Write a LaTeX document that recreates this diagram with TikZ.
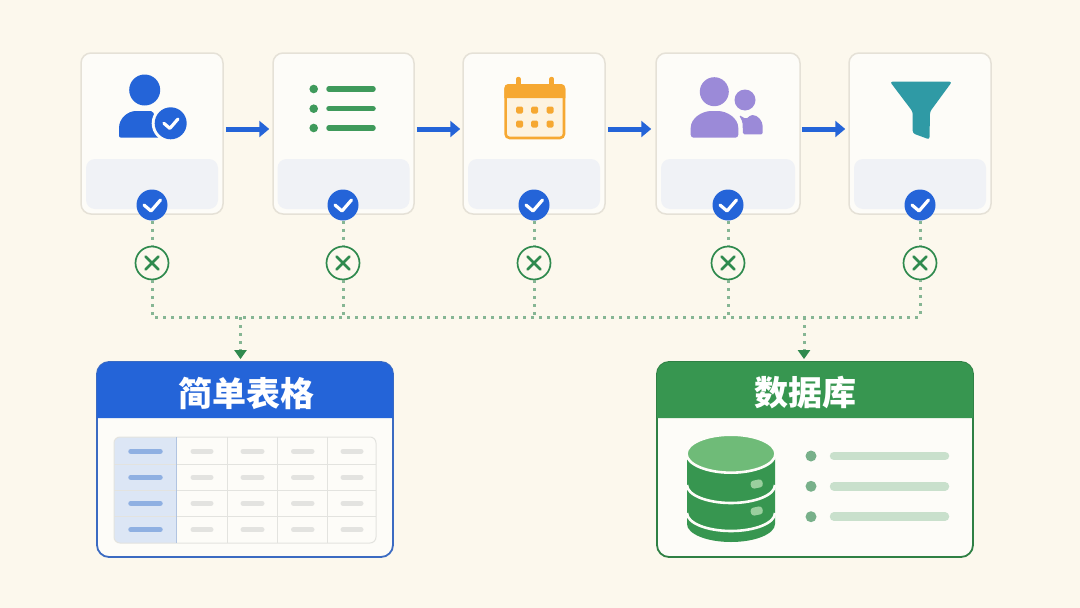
\documentclass[tikz,border=0pt]{standalone}
\usepackage{fontspec}
\newfontfamily\cjk{Noto Sans CJK SC}
\usepackage{tikz}
\usetikzlibrary{calc}
\usetikzlibrary{arrows.meta}

\definecolor{paper}{HTML}{FCF8ED}
\definecolor{cardfill}{HTML}{FDFCF8}
\definecolor{cardline}{HTML}{E5E1D7}
\definecolor{trayfill}{HTML}{F0F2F6}
\definecolor{flowblue}{HTML}{2464D8}
\definecolor{okgreen}{HTML}{2F8A4E}
\definecolor{dotgreen}{HTML}{86B694}
\definecolor{listgreen}{HTML}{3F9A5B}
\definecolor{dbgreen}{HTML}{379650}
\definecolor{dbtop}{HTML}{6FBB78}
\definecolor{calorange}{HTML}{F6A832}
\definecolor{calfill}{HTML}{FDF3E0}
\definecolor{teampurple}{HTML}{9B8AD8}
\definecolor{funnelteal}{HTML}{2F9AA5}
\definecolor{gridline}{HTML}{E3E3DF}
\definecolor{colfill}{HTML}{DCE6F5}
\definecolor{colbar}{HTML}{8FB0E2}
\definecolor{cellbar}{HTML}{E3E3E0}
\definecolor{rowdot}{HTML}{78B08A}
\definecolor{rowbar}{HTML}{C9E0CC}

\tikzset{
  card/.style={draw=cardline,fill=cardfill,line width=1.5,rounded corners=10,minimum height=161,inner sep=0},
  tray/.style={fill=trayfill,rounded corners=9,minimum height=50,inner sep=0},
  okdot/.style={circle,fill=flowblue,minimum size=31,inner sep=0},
  nodot/.style={circle,draw=okgreen,fill=paper,line width=1.7,minimum size=33,inner sep=0},
  flow/.style={-{Triangle[length=10pt,width=16pt]},draw=flowblue,fill=flowblue,line width=5},
  dotline/.style={draw=dotgreen,line width=3,dash pattern=on 2.8pt off 5.2pt},
  droparrow/.style={dotline,-{Triangle[length=9pt,width=12pt,color=okgreen]}},
  panel/.style={fill=cardfill,line width=1.8,rounded corners=12,minimum height=195,inner sep=0},
  title/.style={text=white,font=\cjk\bfseries\fontsize{34}{40}\selectfont,inner sep=0},
  cbar/.style={draw=colbar,line width=5.5,line cap=round},
  gbar/.style={draw=cellbar,line width=5,line cap=round},
  rbar/.style={draw=rowbar,line width=8.5,line cap=round},
  checkmark/.pic={\draw[white,line width=3.2,line cap=round,line join=round] (-8,0) -- (-1,6) -- (8.5,-5);},
  crossmark/.pic={\draw[okgreen,line width=2.6,line cap=round] (-6.5,-6.5) -- (6.5,6.5) (-6.5,6.5) -- (6.5,-6.5);}
}

\begin{document}
\begin{tikzpicture}[x=1pt,y=-1pt]

  \useasboundingbox (0,0) rectangle (1080,608);
  \fill[paper] (0,0) rectangle (1080,608);

  % top row
  \node[card,minimum width=142] (card1) at (152,133.5) {};
  \node[card,minimum width=141] (card2) at (343.5,133.5) {};
  \node[card,minimum width=142] (card3) at (534,133.5) {};
  \node[card,minimum width=144] (card4) at (728,133.5) {};
  \node[card,minimum width=142] (card5) at (920,133.5) {};

  \node[tray,minimum width=132] (tray1) at (152,184) {};
  \node[tray,minimum width=132] (tray2) at (343.5,184) {};
  \node[tray,minimum width=132] (tray3) at (534,184) {};
  \node[tray,minimum width=134] (tray4) at (728,184) {};
  \node[tray,minimum width=132] (tray5) at (920,184) {};

  \draw[flow] ([xshift=2pt,yshift=4.5pt]card1.east) -- ([xshift=-3pt,yshift=4.5pt]card2.west);
  \draw[flow] ([xshift=2pt,yshift=4.5pt]card2.east) -- ([xshift=-2pt,yshift=4.5pt]card3.west);
  \draw[flow] ([xshift=2pt,yshift=4.5pt]card3.east) -- ([xshift=-4pt,yshift=4.5pt]card4.west);
  \draw[flow] ([xshift=1pt,yshift=4.5pt]card4.east) -- ([xshift=-3pt,yshift=4.5pt]card5.west);

  % person with badge
  \fill[flowblue] (144.7,90) circle (15.5);
  \fill[flowblue,rounded corners=2] (119,137.7) -- (119,130) .. controls (119,118) and (128,111) .. (138,111) -- (153,111) -- (160,137.7) -- cycle;
  \fill[cardfill] (170.7,123.3) circle (19);
  \fill[flowblue] (170.7,123.3) circle (16);
  \pic[scale=0.85] at (170.7,123.3) {checkmark};

  % list
  \fill[listgreen] (313.7,89) circle (4.3);
  \fill[listgreen] (313.7,108.7) circle (4.3);
  \fill[listgreen] (313.7,128) circle (4.3);
  \draw[listgreen,line width=5.5,line cap=round] (329,89) -- (373,89);
  \draw[listgreen,line width=5.5,line cap=round] (329,108.7) -- (373,108.7);
  \draw[listgreen,line width=5.5,line cap=round] (329,128) -- (373,128);

  % calendar
  \draw[calorange,line width=4.5,line cap=round] (518.3,79) -- (518.3,85);
  \draw[calorange,line width=4.5,line cap=round] (551.7,79) -- (551.7,85);
  \draw[calorange,fill=calfill,line width=2.6,rounded corners=4] (505.6,85.3) rectangle (564,138);
  \fill[calorange] (504.3,98) [rounded corners=4] -- (504.3,84) -- (565.3,84) [sharp corners] -- (565.3,98) -- cycle;
  \fill[calorange,rounded corners=1.5] (516.2,106.5) rectangle +(7,7);
  \fill[calorange,rounded corners=1.5] (531.2,106.5) rectangle +(7,7);
  \fill[calorange,rounded corners=1.5] (546.5,106.5) rectangle +(7,7);
  \fill[calorange,rounded corners=1.5] (516.2,120.5) rectangle +(7,7);
  \fill[calorange,rounded corners=1.5] (531.2,120.5) rectangle +(7,7);
  \fill[calorange,rounded corners=1.5] (546.5,120.5) rectangle +(7,7);

  % two people
  \fill[teampurple] (714.3,91.7) circle (14.5);
  \fill[teampurple] (745,100) circle (10.5);
  \fill[teampurple,rounded corners=3] (690.7,137.7) -- (690.7,131) .. controls (690.7,118) and (702,111) .. (714.5,111) .. controls (727,111) and (738.3,118) .. (738.3,131) -- (738.3,137.7) -- cycle;
  \fill[teampurple,rounded corners=1.5] (743,134.3) -- (742.5,122) -- (739,115) -- (746,119) -- (751,115) .. controls (758,115) and (762.7,121) .. (762.7,128) -- (762.7,134.3) -- cycle;

  % funnel
  \fill[funnelteal,rounded corners=2.5] (890,81.7) -- (952,81.7) -- (930,111.7) -- (929.5,139.5) -- (912.7,133.3) -- (912.7,111.7) -- cycle;

  % checks and crosses
  \node[okdot] (ok1) at (152,205) {};
  \node[okdot] (ok2) at (343,205) {};
  \node[okdot] (ok3) at (534,205) {};
  \node[okdot] (ok4) at (728,205) {};
  \node[okdot] (ok5) at (920,205) {};
  \pic at (ok1) {checkmark};
  \pic at (ok2) {checkmark};
  \pic at (ok3) {checkmark};
  \pic at (ok4) {checkmark};
  \pic at (ok5) {checkmark};

  \node[nodot] (no1) at (152,263) {};
  \node[nodot] (no2) at (343,263) {};
  \node[nodot] (no3) at (534,263) {};
  \node[nodot] (no4) at (728,263) {};
  \node[nodot] (no5) at (920,263) {};
  \pic at (no1) {crossmark};
  \pic at (no2) {crossmark};
  \pic at (no3) {crossmark};
  \pic at (no4) {crossmark};
  \pic at (no5) {crossmark};

  % dotted bus
  \coordinate (bus1) at (152,317);
  \coordinate (bus2) at (343,317);
  \coordinate (bus3) at (534,317);
  \coordinate (bus4) at (728,317);
  \coordinate (bus5) at (920,317);
  \coordinate (taptable) at (240.5,317);
  \coordinate (tapbase) at (804,317);

  \draw[dotline] (ok1) -- (no1);
  \draw[dotline] (ok2) -- (no2);
  \draw[dotline] (ok3) -- (no3);
  \draw[dotline] (ok4) -- (no4);
  \draw[dotline] (ok5) -- (no5);
  \draw[dotline] (no1) -- (bus1) -- (bus5) -- (no5);
  \draw[dotline] (no2) -- (bus2);
  \draw[dotline] (no3) -- (bus3);
  \draw[dotline] (no4) -- (bus4);

  % table panel
  \node[panel,draw=flowblue!75!gray,minimum width=296] (tablepanel) at (245,459.5) {};
  \fill[flowblue] (97,418) [rounded corners=12] -- (97,362) -- (393,362) [sharp corners] -- (393,418) -- cycle;
  \node[title] (tabletitle) at (246.5,393) {简单表格};

  \fill[cardfill,rounded corners=6] (114,437) rectangle (376,543);
  \fill[colfill] (176.3,437) [rounded corners=6] -- (114,437) -- (114,543) [sharp corners] -- (176.3,543) -- cycle;
  \draw[gridline,line width=1,rounded corners=6] (114,437) rectangle (376,543);
  \draw[gridline,line width=1] (114,464) -- (376,464);
  \draw[gridline,line width=1] (114,490) -- (376,490);
  \draw[gridline,line width=1] (114,516.7) -- (376,516.7);
  \draw[colbar!60!gridline,line width=1] (176.3,437) -- (176.3,543);
  \draw[gridline,line width=1] (227,437) -- (227,543);
  \draw[gridline,line width=1] (277.3,437) -- (277.3,543);
  \draw[gridline,line width=1] (327.7,437) -- (327.7,543);

  \draw[cbar] (131,451.3) -- (160,451.3);
  \draw[cbar] (131,477.3) -- (160,477.3);
  \draw[cbar] (131,503.3) -- (160,503.3);
  \draw[cbar] (131,529.7) -- (160,529.7);

  \draw[gbar] (193,451.3) -- (211,451.3);
  \draw[gbar] (243,451.3) -- (262,451.3);
  \draw[gbar] (293.5,451.3) -- (312,451.3);
  \draw[gbar] (343,451.3) -- (361,451.3);
  \draw[gbar] (193,477.3) -- (211,477.3);
  \draw[gbar] (243,477.3) -- (262,477.3);
  \draw[gbar] (293.5,477.3) -- (312,477.3);
  \draw[gbar] (343,477.3) -- (361,477.3);
  \draw[gbar] (193,503.3) -- (211,503.3);
  \draw[gbar] (243,503.3) -- (262,503.3);
  \draw[gbar] (293.5,503.3) -- (312,503.3);
  \draw[gbar] (343,503.3) -- (361,503.3);
  \draw[gbar] (193,529.7) -- (211,529.7);
  \draw[gbar] (243,529.7) -- (262,529.7);
  \draw[gbar] (293.5,529.7) -- (312,529.7);
  \draw[gbar] (343,529.7) -- (361,529.7);

  % database panel
  \node[panel,draw=dbgreen!85!black,minimum width=316] (basepanel) at (815,459.5) {};
  \fill[dbgreen] (657,418) [rounded corners=12] -- (657,362) -- (973,362) [sharp corners] -- (973,418) -- cycle;
  \node[title] (basetitle) at (805,393) {数据库};

  \fill[dbgreen] (687,454) -- (775,454) -- (775,524) arc (0:180:44 and 18) -- cycle;
  \draw[cardfill,line width=2.6] (687,485) arc (180:0:44 and 18);
  \draw[cardfill,line width=2.6] (687,513) arc (180:0:44 and 18);
  \draw[cardfill,line width=2.6,fill=dbtop] (731,453.7) ellipse (44.5 and 19);
  \fill[dbtop!70!cardfill,rotate around={12:(756.7,484)},rounded corners=3] (750.7,480) rectangle (762.7,488);
  \fill[dbtop!70!cardfill,rotate around={12:(756.7,511)},rounded corners=3] (750.7,507) rectangle (762.7,515);

  \fill[rowdot] (811,456) circle (5.5);
  \fill[rowdot] (811,486.3) circle (5.5);
  \fill[rowdot] (811,516.7) circle (5.5);
  \draw[rbar] (834,456) -- (945,456);
  \draw[rbar] (834,486.3) -- (945,486.3);
  \draw[rbar] (834,516.7) -- (945,516.7);

  % drops into the panels
  \draw[droparrow] (taptable) -- ([yshift=2pt]taptable |- tablepanel.north);
  \draw[droparrow] (tapbase) -- ([yshift=2pt]tapbase |- basepanel.north);

\end{tikzpicture}
\end{document}
